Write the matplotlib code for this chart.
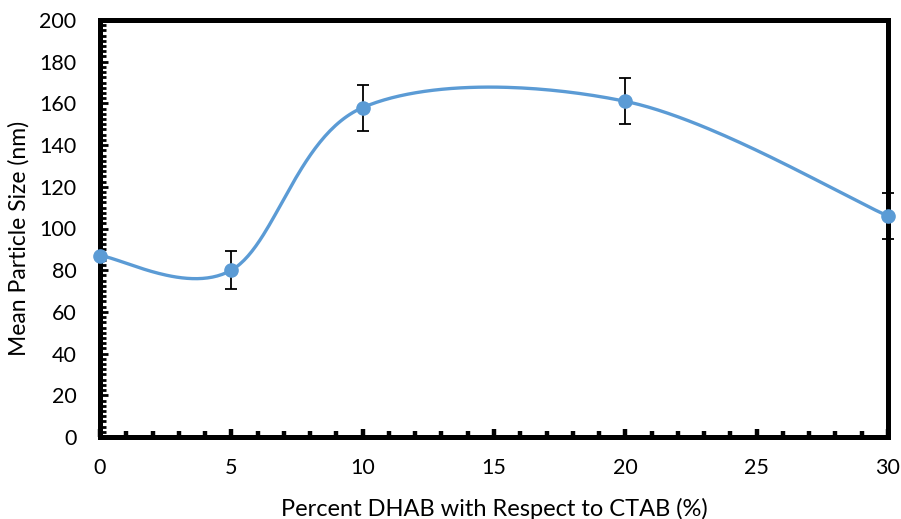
import numpy as np
import matplotlib
matplotlib.use("Agg")
import matplotlib.pyplot as plt
from matplotlib.ticker import MultipleLocator

plt.rcParams['font.family'] = ['Lato', 'DejaVu Sans']

percent_dhab = [0, 5, 10, 20, 30]
mean_size = [87, 80, 158, 161, 106]
size_err = [0, 9, 11, 11, 11]

x_ticks = [0, 5, 10, 15, 20, 25, 30]
y_ticks = list(range(0, 201, 20))

line_color = '#5B9BD5'


def smooth_curve(xs, ys, n=60):
    """Piecewise cubic Bezier through the points (spreadsheet-style smoothing)."""
    pts = np.column_stack([xs, ys]).astype(float)
    out = []
    for i in range(len(pts) - 1):
        p0 = pts[i - 1] if i > 0 else pts[i]
        p1 = pts[i]
        p2 = pts[i + 1]
        p3 = pts[i + 2] if i + 2 < len(pts) else pts[i + 1]
        c1 = p1 + (p2 - p0) / 6.0
        c2 = p2 - (p3 - p1) / 6.0
        t = np.linspace(0, 1, n)[:, None]
        seg = ((1 - t) ** 3) * p1 + 3 * ((1 - t) ** 2) * t * c1 + 3 * (1 - t) * t ** 2 * c2 + t ** 3 * p2
        out.append(seg if i == 0 else seg[1:])
    seg = np.vstack(out)
    return seg[:, 0], seg[:, 1]


fig = plt.figure(figsize=(9.01, 5.19), dpi=100)
ax = fig.add_axes([100 / 901, 1 - 437 / 519, 788 / 901, 417 / 519])

cx, cy = smooth_curve(percent_dhab, mean_size)
ax.plot(cx, cy, color=line_color, lw=2.4, zorder=3, solid_capstyle='round', clip_on=False)

# error bars only where an uncertainty was measured
ex = [x for x, e in zip(percent_dhab, size_err) if e > 0]
ey = [y for y, e in zip(mean_size, size_err) if e > 0]
ee = [e for e in size_err if e > 0]
ax.errorbar(ex, ey, yerr=ee, fmt='none', ecolor='black',
            elinewidth=1.3, capsize=4.5, capthick=1.3, zorder=2, clip_on=False)
ax.plot(percent_dhab, mean_size, 'o', color=line_color, markersize=9.5, zorder=4, clip_on=False)

ax.set_xlim(0, 30)
ax.set_ylim(0, 200)
ax.set_xticks(x_ticks)
ax.set_yticks(y_ticks)
ax.xaxis.set_minor_locator(MultipleLocator(1))
ax.yaxis.set_minor_locator(MultipleLocator(2.5))

for s in ax.spines.values():
    s.set_linewidth(3.6)
    s.set_color('black')

ax.tick_params(axis='both', which='major', direction='in', length=5.5,
               labelsize=15.5, colors='black', pad=15)
ax.tick_params(axis='y', which='major', pad=17)
ax.tick_params(axis='x', which='both', width=3.2)
ax.tick_params(axis='y', which='both', width=2.0)
ax.tick_params(axis='both', which='minor', direction='in', length=4)
ax.tick_params(top=False, right=False, which='both')

ax.set_xlabel('Percent DHAB with Respect to CTAB (%)', fontsize=17)
ax.set_ylabel('Mean Particle Size (nm)', fontsize=16.5)
ax.xaxis.set_label_coords(0.5, -0.145)
ax.yaxis.set_label_coords(-0.090, 0.477)

fig.savefig('out.png', dpi=100)
